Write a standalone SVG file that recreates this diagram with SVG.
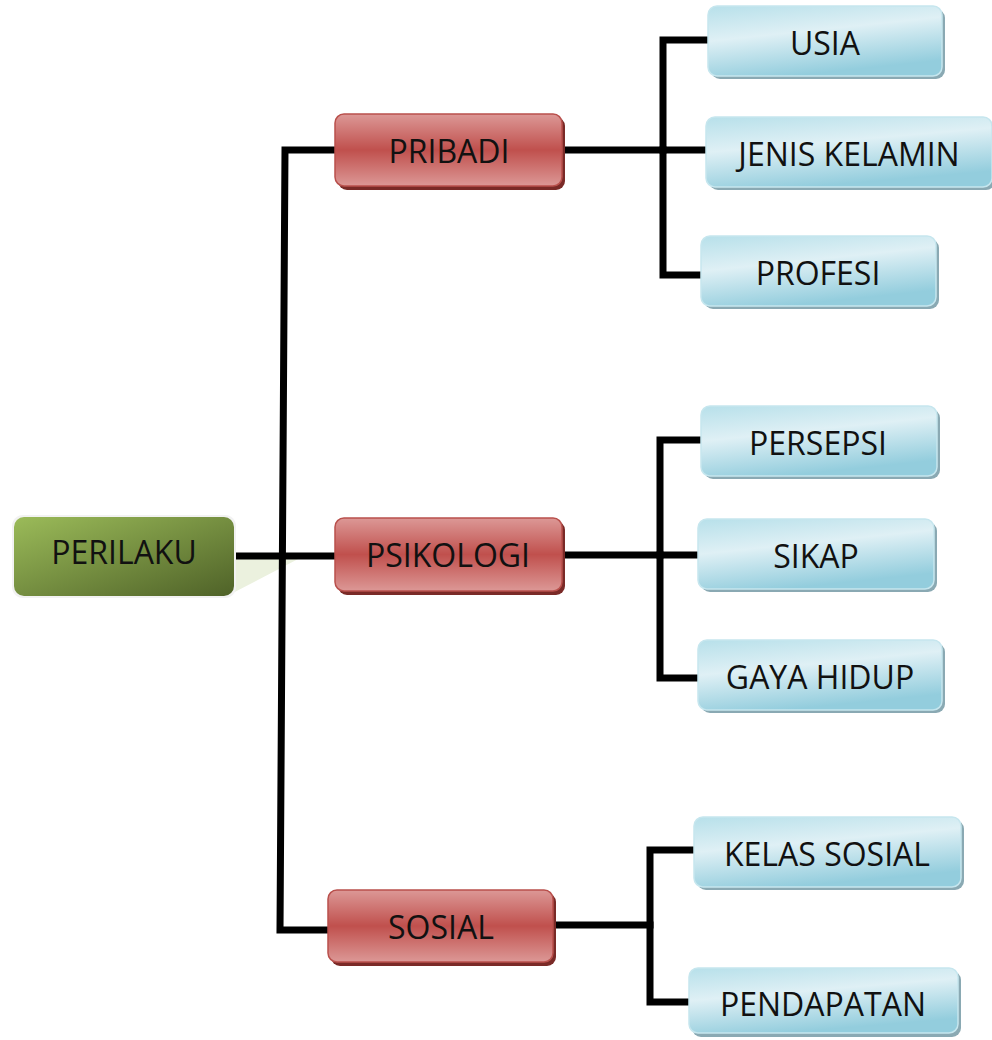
<svg xmlns="http://www.w3.org/2000/svg" width="992" height="1040" viewBox="0 0 992 1040">
<defs>
<linearGradient id="gGreen" x1="0" y1="0" x2="1" y2="1">
<stop offset="0" stop-color="#9bbb59"/><stop offset="1" stop-color="#4f6228"/>
</linearGradient>
<linearGradient id="gRed" x1="0" y1="0" x2="0" y2="1">
<stop offset="0" stop-color="#dc9896"/><stop offset="0.5" stop-color="#c0504d"/><stop offset="1" stop-color="#dc9896"/>
</linearGradient>
<linearGradient id="gBlue" x1="0" y1="0" x2="0.35" y2="1">
<stop offset="0" stop-color="#b7e0ea"/><stop offset="0.45" stop-color="#dff0f5"/><stop offset="1" stop-color="#93cddd"/>
</linearGradient>
</defs>
<style>
.txt{font-family:"Open Sans","Liberation Sans",sans-serif;font-size:32px;fill:#111;text-anchor:middle}
.red{fill:url(#gRed);stroke:#b9504c;stroke-width:1.5}
.redsh{fill:#7a2a27}
.blue{fill:url(#gBlue);stroke:#c6e6ee;stroke-width:1.5}
.bluesh{fill:#8aa9b3}
.con{fill:none;stroke:#000;stroke-width:7;stroke-linecap:square;stroke-linejoin:miter}
</style>
<polygon points="225,597 300,558 230,556" fill="#ebf1de"/>
<g id="connectors">
<path class="con" d="M235,556 H335"/>
<path class="con" d="M335,150 H285 L280,930 H330"/>
<path class="con" d="M562,150 H663"/>
<path class="con" d="M708,40 H663 V275 H703"/>
<path class="con" d="M663,150 H706"/>
<path class="con" d="M562,555 H660"/>
<path class="con" d="M701,440 H660 V678 H698"/>
<path class="con" d="M660,555 H698"/>
<path class="con" d="M553,925 H650"/>
<path class="con" d="M694,850 H650 V1002 H689"/>
</g>
<g id="perilaku">
<rect x="12" y="515" width="224" height="83" rx="11" fill="#f2f2f2"/>
<rect x="14" y="517" width="220" height="79" rx="10" fill="url(#gGreen)"/>
<text class="txt" x="124" y="564">PERILAKU</text>
</g>
<g id="pribadi">
<rect class="redsh" x="338" y="117" width="227" height="73" rx="9"/>
<rect class="red" x="335" y="114" width="227" height="72" rx="9"/>
<text class="txt" x="449" y="163">PRIBADI</text>
</g>
<g id="psikologi">
<rect class="redsh" x="338" y="521" width="227" height="74" rx="9"/>
<rect class="red" x="335" y="518" width="227" height="73" rx="9"/>
<text class="txt" x="448" y="567">PSIKOLOGI</text>
</g>
<g id="sosial">
<rect class="redsh" x="331" y="893" width="225" height="73" rx="9"/>
<rect class="red" x="328" y="890" width="225" height="72" rx="9"/>
<text class="txt" x="441" y="939">SOSIAL</text>
</g>
<g id="usia">
<rect class="bluesh" x="711" y="9" width="234" height="70" rx="9"/>
<rect class="blue" x="708" y="6" width="234" height="70" rx="9"/>
<text class="txt" x="825" y="55">USIA</text>
</g>
<g id="jenis-kelamin">
<rect class="bluesh" x="709" y="120" width="286" height="70" rx="9"/>
<rect class="blue" x="706" y="117" width="286" height="70" rx="9"/>
<text class="txt" x="849" y="166">JENIS KELAMIN</text>
</g>
<g id="profesi">
<rect class="bluesh" x="704" y="239" width="235" height="70" rx="9"/>
<rect class="blue" x="701" y="236" width="235" height="70" rx="9"/>
<text class="txt" x="818" y="285">PROFESI</text>
</g>
<g id="persepsi">
<rect class="bluesh" x="704" y="409" width="236" height="70" rx="9"/>
<rect class="blue" x="701" y="406" width="236" height="70" rx="9"/>
<text class="txt" x="818" y="455">PERSEPSI</text>
</g>
<g id="sikap">
<rect class="bluesh" x="701" y="522" width="236" height="70" rx="9"/>
<rect class="blue" x="698" y="519" width="236" height="70" rx="9"/>
<text class="txt" x="816" y="568">SIKAP</text>
</g>
<g id="gaya-hidup">
<rect class="bluesh" x="701" y="643" width="244" height="70" rx="9"/>
<rect class="blue" x="698" y="640" width="244" height="70" rx="9"/>
<text class="txt" x="820" y="689">GAYA HIDUP</text>
</g>
<g id="kelas-sosial">
<rect class="bluesh" x="697" y="820" width="267" height="70" rx="9"/>
<rect class="blue" x="694" y="817" width="267" height="70" rx="9"/>
<text class="txt" x="827" y="866">KELAS SOSIAL</text>
</g>
<g id="pendapatan">
<rect class="bluesh" x="692" y="971" width="269" height="66" rx="9"/>
<rect class="blue" x="689" y="968" width="269" height="65" rx="9"/>
<text class="txt" x="823" y="1016">PENDAPATAN</text>
</g>
</svg>
